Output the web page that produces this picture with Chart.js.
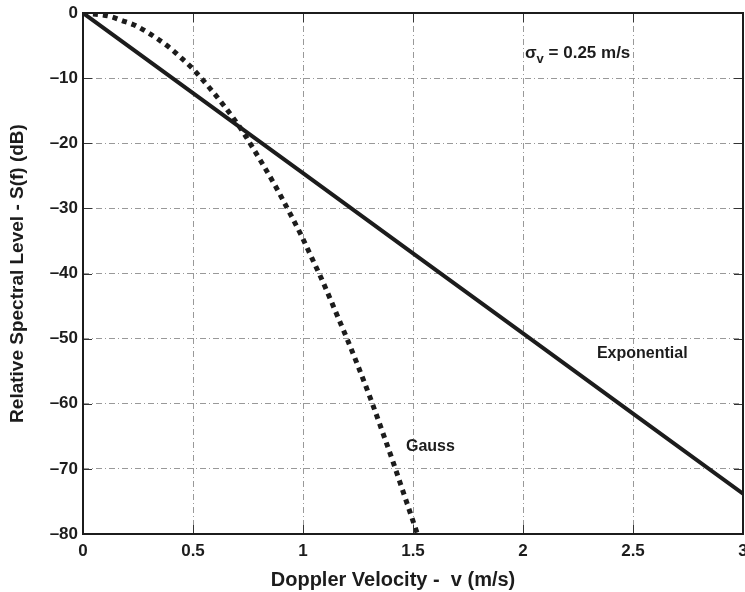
<!DOCTYPE html>
<html>
<head>
<meta charset="utf-8">
<script src="https://cdn.jsdelivr.net/npm/chart.js@4"></script>
<style>
    html, body { margin: 0; padding: 0; background: #fff; }
    #wrap { width: 745px; height: 592px; }
</style>
</head>
<body>
<div id="wrap"><canvas id="spectrum"></canvas></div>
<script>
// Doppler spectrum shapes, sigma_v = 0.25 m/s
const expVelocity = [0, 0.5, 1, 1.5, 2, 2.5, 3];
const expLevel = [0, -12.3, -24.6, -36.9, -49.2, -61.5, -73.8];

const gaussVelocity = [0, 0.12, 0.18, 0.23, 0.29, 0.34, 0.40, 0.44, 0.50, 0.55, 0.64, 0.73, 0.77, 0.82,
    0.88, 0.91, 0.99, 1.04, 1.08, 1.12, 1.16, 1.20, 1.25, 1.31, 1.36, 1.41, 1.46, 1.50, 1.52];
const gaussLevel = [0, -0.5, -1.2, -1.8, -2.9, -4.0, -5.5, -6.7, -8.6, -10.5, -14.2, -18.4, -20.6, -23.4,
    -26.9, -28.8, -34.0, -37.6, -40.5, -43.6, -46.8, -50.0, -54.2, -59.5, -64.2, -69.0, -74.0, -78.0, -80];

const xTicks = [0, 0.5, 1, 1.5, 2, 2.5, 3];
const yTicks = [0, -10, -20, -30, -40, -50, -60, -70, -80];

const ink = '#1c1c1c';
const fontFamily = '"Liberation Sans", Arial, sans-serif';

function toPoints(xs, ys) {
    return xs.map((x, i) => ({ x: x, y: ys[i] }));
}

// frame round the plot plus the short inward tick marks
const framePlugin = {
    id: 'frame',
    afterDatasetsDraw(chart) {
        const { ctx, chartArea: a, scales } = chart;
        const len = 9;
        ctx.save();
        ctx.strokeStyle = '#333';
        ctx.lineWidth = 1;
        ctx.beginPath();
        xTicks.forEach(v => {
            const px = Math.round(scales.x.getPixelForValue(v)) + 0.5;
            ctx.moveTo(px, a.bottom); ctx.lineTo(px, a.bottom - len);
            ctx.moveTo(px, a.top); ctx.lineTo(px, a.top + len);
        });
        yTicks.forEach(v => {
            const py = Math.round(scales.y.getPixelForValue(v)) + 0.5;
            ctx.moveTo(a.left, py); ctx.lineTo(a.left + len, py);
            ctx.moveTo(a.right, py); ctx.lineTo(a.right - len, py);
        });
        ctx.stroke();
        ctx.strokeStyle = ink;
        ctx.lineWidth = 2;
        ctx.strokeRect(a.left, a.top, a.right - a.left, a.bottom - a.top);
        ctx.restore();
    }
};

// text notes placed in data units, plus the x axis caption
const notesPlugin = {
    id: 'notes',
    afterDraw(chart) {
        const { ctx, scales, chartArea: a } = chart;
        const X = v => scales.x.getPixelForValue(v);
        const Y = v => scales.y.getPixelForValue(v);
        ctx.save();
        ctx.fillStyle = ink;
        ctx.textAlign = 'left';
        ctx.textBaseline = 'alphabetic';
        ctx.font = 'bold 16px ' + fontFamily;

        ctx.fillText('Exponential', X(2.336), Y(-53.0));
        ctx.fillText('Gauss', X(1.468), Y(-67.3));

        ctx.font = 'bold 17px ' + fontFamily;
        let sx = X(2.009);
        const sy = Y(-6.9);
        ctx.fillText('σ', sx, sy);
        sx += ctx.measureText('σ').width;
        ctx.font = 'bold 13px ' + fontFamily;
        ctx.fillText('v', sx, sy + 5);
        sx += ctx.measureText('v').width;
        ctx.font = 'bold 17px ' + fontFamily;
        ctx.fillText(' = 0.25 m/s', sx, sy);

        // axis caption sits a little left of the plot centre
        ctx.font = 'bold 20px ' + fontFamily;
        ctx.textAlign = 'center';
        ctx.fillText('Doppler Velocity -  v (m/s)', (a.left + a.right) / 2 - 20, a.bottom + 52);
        ctx.restore();
    }
};

const gridStyle = {
    color: '#999',
    lineWidth: 1,
    drawTicks: false
};

new Chart(document.getElementById('spectrum'), {
    type: 'line',
    data: {
        datasets: [
            {
                label: 'Exponential',
                data: toPoints(expVelocity, expLevel),
                borderColor: ink,
                borderWidth: 4,
                pointRadius: 0,
                tension: 0
            },
            {
                label: 'Gauss',
                data: toPoints(gaussVelocity, gaussLevel),
                borderColor: ink,
                borderWidth: 5,
                borderDash: [5, 5],
                borderCapStyle: 'butt',
                pointRadius: 0,
                cubicInterpolationMode: 'monotone'
            }
        ]
    },
    options: {
        responsive: true,
        maintainAspectRatio: false,
        animation: false,
        layout: { padding: { top: 13, right: 2, left: 0, bottom: 0 } },
        plugins: {
            legend: { display: false },
            tooltip: { enabled: false }
        },
        scales: {
            x: {
                type: 'linear',
                min: 0,
                max: 3,
                grid: gridStyle,
                border: { display: false, dash: [6, 3, 1, 3] },
                afterBuildTicks: scale => { scale.ticks = xTicks.map(v => ({ value: v })); },
                afterFit: scale => {
                    scale.height = 58;
                    scale.paddingLeft = 0;
                    scale.paddingRight = 0;
                },
                ticks: {
                    padding: 7,
                    color: ink,
                    maxRotation: 0,
                    font: { family: fontFamily, size: 17, weight: 'bold' },
                    callback: v => String(v)
                }
            },
            y: {
                type: 'linear',
                min: -80,
                max: 0,
                grid: gridStyle,
                border: { display: false, dash: [6, 3, 1, 3] },
                afterBuildTicks: scale => { scale.ticks = yTicks.map(v => ({ value: v })); },
                afterFit: scale => {
                    scale.width = 83;
                    scale.paddingTop = 0;
                    scale.paddingBottom = 0;
                },
                ticks: {
                    padding: 5,
                    color: ink,
                    font: { family: fontFamily, size: 17, weight: 'bold' },
                    callback: v => String(v).replace('-', '–')
                },
                title: {
                    display: true,
                    text: 'Relative Spectral Level - S(f) (dB)',
                    color: ink,
                    padding: { top: 6, bottom: 0 },
                    font: { family: fontFamily, size: 19, weight: 'bold' }
                }
            }
        }
    },
    plugins: [framePlugin, notesPlugin]
});
</script>
</body>
</html>
